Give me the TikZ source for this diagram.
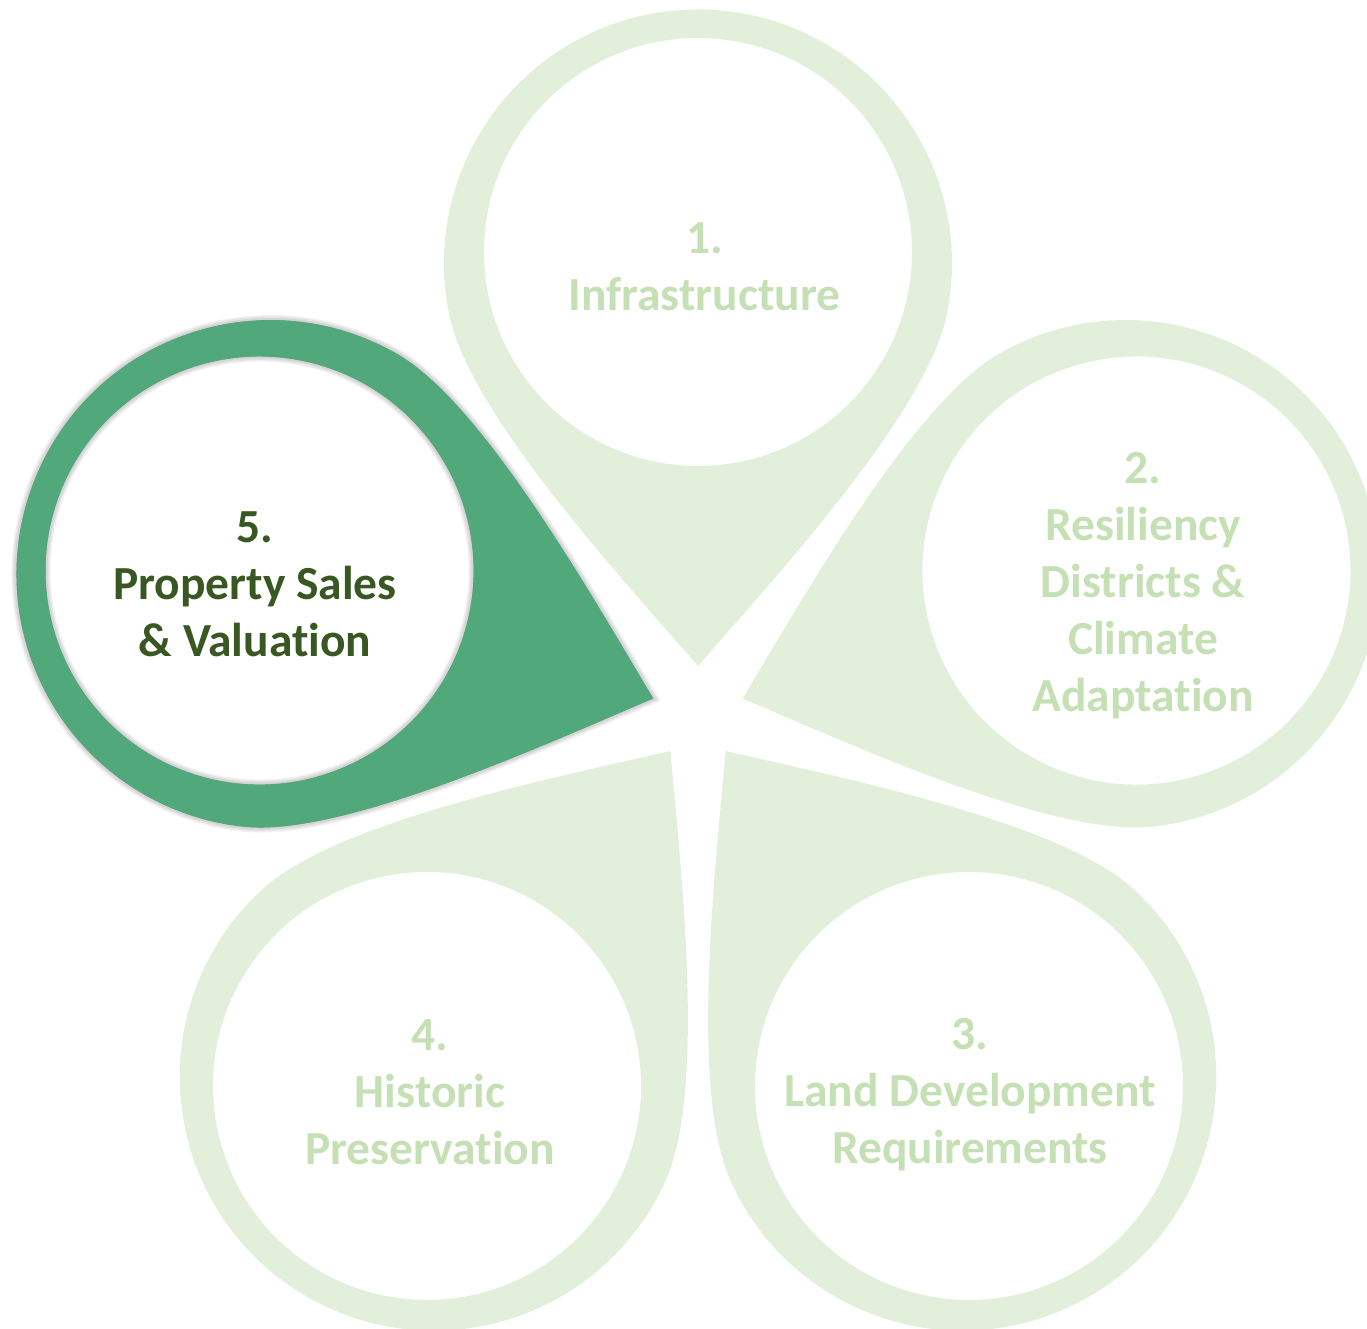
\documentclass[tikz,border=0pt]{standalone}
\usepackage{fontspec}
\setmainfont[Ligatures={NoCommon,NoContextual}]{Carlito}
\definecolor{petallight}{HTML}{E2EFDA}
\definecolor{textlight}{HTML}{C5E0B4}
\definecolor{petaldark}{RGB}{81,168,122}
\definecolor{textdark}{HTML}{385723}
\newcommand{\petalpath}{(0,47) .. controls (75.4,133.8) and (227.6,298.9) .. (248.4,396.7)
  arc[start angle=-12, end angle=192, radius=254pt]
  .. controls (-227.6,298.9) and (-75.4,133.8) .. (0,47) -- cycle
  (0,461) circle[radius=214pt]}
\begin{document}
\begin{tikzpicture}[x=1pt, y=1pt,
  lbl/.style={font=\fontsize{47.5}{57}\selectfont\bfseries, align=center, anchor=base, inner sep=0pt},
  lightpetal/.style={fill=petallight, even odd rule},
  darkpetal/.style={fill=petaldark, even odd rule}]
\useasboundingbox (0,0) rectangle (1367,1329);
\clip (0,0) rectangle (1367,1329);
\coordinate (cen) at (698,616);
% light petals
\foreach \a in {90,18,-54,-126} {
  \begin{scope}[shift={(cen)}, rotate=\a-90]
    \path[lightpetal] \petalpath;
  \end{scope}
}
% shadow of highlighted petal
\begin{scope}[shift={(5,-5)}]
  \begin{scope}[shift={(cen)}, rotate=72]
    \foreach \w in {10,7,4} {
      \path[draw=black, line width=\w pt, draw opacity=0.06] \petalpath;
    }
    \path[fill=black, fill opacity=0.28, even odd rule] \petalpath;
  \end{scope}
\end{scope}
% highlighted petal
\begin{scope}[shift={(cen)}, rotate=72]
  \path[darkpetal] \petalpath;
\end{scope}
% labels (anchor = baseline of last line)
\node[lbl, text=textlight] (t1) at (704.5,1018) {1.\\Infrastructure};
\node[lbl, text=textlight] (t2) at (1143,617.3) {2.\\Resiliency\\Districts \&\\Climate\\Adaptation};
\node[lbl, text=textlight] (t3) at (970,165) {3.\\Land Development\\Requirements};
\node[lbl, text=textlight] (t4) at (430,164.7) {4.\\Historic\\Preservation};
\node[lbl, text=textdark] (t5) at (255,672.3) {5.\\Property Sales\\\& Valuation};
\end{tikzpicture}
\end{document}
